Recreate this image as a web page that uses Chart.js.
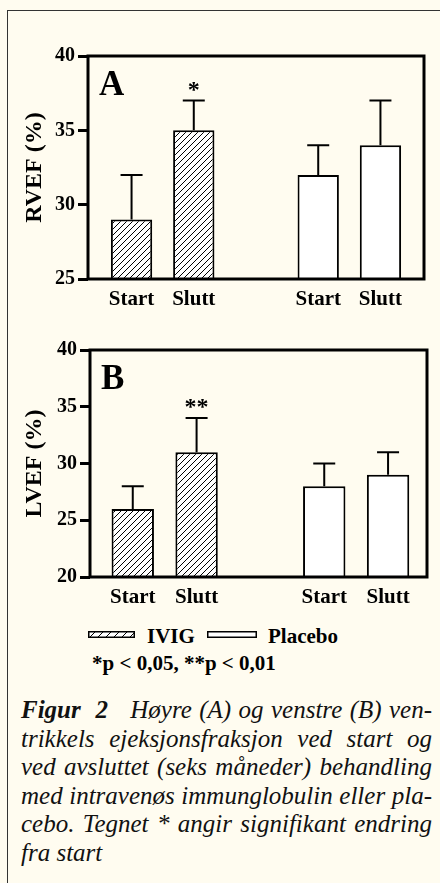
<!DOCTYPE html>
<html>
<head>
<meta charset="utf-8">
<script src="https://cdn.jsdelivr.net/npm/chart.js@4/dist/chart.umd.min.js"></script>
<style>
  html, body { margin: 0; padding: 0; width: 440px; height: 883px; overflow: hidden; background: #fffcf0; font-family: 'Liberation Serif', 'Times New Roman', serif; }
  #frame { position: absolute; left: 7px; top: 10px; width: 460px; height: 900px; border-left: 1px solid #333; border-top: 1px solid #333; }
  #cA { position: absolute; left: 0; top: 0; }
  #cB { position: absolute; left: 0; top: 320px; }
  .lg { position: absolute; font-weight: bold; font-size: 21px; line-height: 24px; white-space: nowrap; }
  .sw { position: absolute; }
  #cap { position: absolute; left: 21px; top: 696px; width: 411px; font-style: italic; font-size: 25px; line-height: 28.5px; color: #111; }
  #cap .ln { text-align: justify; text-align-last: justify; white-space: nowrap; }
  #cap .last { text-align-last: left; }
</style>
</head>
<body>
<div id="frame"></div>
<canvas id="cA" width="440" height="320"></canvas>
<canvas id="cB" width="440" height="300"></canvas>

<canvas class="sw" id="swIVIG" width="47" height="7" style="left:88px;top:631px"></canvas>
<div class="lg" style="left:147px;top:624px">IVIG</div>
<canvas class="sw" id="swPlacebo" width="50" height="7" style="left:207px;top:631px"></canvas>
<div class="lg" style="left:268px;top:624px">Placebo</div>
<div class="lg" style="left:92px;top:651px">*p &lt; 0,05, **p &lt; 0,01</div>

<div id="cap">
  <div class="ln"><b>Figur&nbsp; 2</b>&nbsp;&nbsp; Høyre (A) og venstre (B) ven-</div>
  <div class="ln">trikkels ejeksjonsfraksjon ved start og</div>
  <div class="ln">ved avsluttet (seks måneder) behandling</div>
  <div class="ln">med intravenøs immunglobulin eller pla-</div>
  <div class="ln">cebo. Tegnet * angir signifikant endring</div>
  <div class="ln last">fra start</div>
</div>

<script>
// data
const timepoints = ['Start', 'Slutt'];
const groups = ['IVIG', 'Placebo'];

const rvefIVIG = [29, 35];
const rvefIVIGErr = [3, 2];
const rvefPlacebo = [32, 34];
const rvefPlaceboErr = [2, 3];
const rvefSig = ['', '*'];
const rvefTicks = [25, 30, 35, 40];

const lvefIVIG = [26, 31];
const lvefIVIGErr = [2, 3];
const lvefPlacebo = [28, 29];
const lvefPlaceboErr = [2, 2];
const lvefSig = ['', '**'];
const lvefTicks = [20, 25, 30, 35, 40];

const FONT = "'Liberation Serif', 'Times New Roman', serif";

// slot index on the x axis: one empty slot between the groups
const slotOf = (g, i) => g * (timepoints.length + 1) + i;
const slots = [], slotLabels = {};
groups.forEach((g, gi) => timepoints.forEach((t, i) => { slots.push(slotOf(gi, i)); slotLabels[slotOf(gi, i)] = t; }));

function hatchPattern(step) {
  const c = document.createElement('canvas');
  c.width = step; c.height = step;
  const g = c.getContext('2d');
  g.fillStyle = '#fff';
  g.fillRect(0, 0, step, step);
  g.strokeStyle = '#000';
  g.lineWidth = 1;
  g.beginPath();
  g.moveTo(0, step); g.lineTo(step, 0);
  g.moveTo(-1, 1); g.lineTo(1, -1);
  g.moveTo(step - 1, step + 1); g.lineTo(step + 1, step - 1);
  g.stroke();
  return g.createPattern(c, 'repeat');
}
const hatch = hatchPattern(6);

// error bars + significance marks
const errorBars = {
  id: 'errorBars',
  afterDatasetsDraw(chart) {
    const ctx = chart.ctx, y = chart.scales.y;
    ctx.save();
    ctx.strokeStyle = '#000';
    ctx.lineWidth = 2;
    chart.data.datasets.forEach((ds, di) => {
      const meta = chart.getDatasetMeta(di);
      meta.data.forEach((bar, i) => {
        const top = y.getPixelForValue(ds.data[i].y + ds.errors[i]);
        ctx.beginPath();
        ctx.moveTo(bar.x, bar.y);
        ctx.lineTo(bar.x, top);
        ctx.moveTo(bar.x - 11, top);
        ctx.lineTo(bar.x + 11, top);
        ctx.stroke();
        if (ds.marks && ds.marks[i]) {
          ctx.fillStyle = '#000';
          ctx.font = 'bold 24px ' + FONT;
          ctx.textAlign = 'center';
          ctx.textBaseline = 'alphabetic';
          ctx.fillText(ds.marks[i], bar.x, top - 4);
        }
      });
    });
    ctx.restore();
  }
};

// closed frame round the plot + panel letter
const frame = {
  id: 'frame',
  afterDatasetsDraw(chart, args, opts) {
    const {ctx, chartArea: a} = chart;
    ctx.save();
    ctx.strokeStyle = '#000';
    ctx.lineWidth = 3;
    ctx.strokeRect(a.left, a.top, a.right - a.left, a.bottom - a.top);
    ctx.fillStyle = '#000';
    ctx.font = 'bold 35px ' + FONT;
    ctx.textAlign = 'left';
    ctx.textBaseline = 'alphabetic';
    ctx.fillText(opts.text, a.left + 11, a.top + 39);
    ctx.restore();
  }
};

function makeChart(id, cfg) {
  const datasets = [
    { label: groups[0], data: cfg.ivig.map((v, i) => ({x: slotOf(0, i), y: v})), errors: cfg.ivigErr, marks: cfg.sig, backgroundColor: hatch },
    { label: groups[1], data: cfg.placebo.map((v, i) => ({x: slotOf(1, i), y: v})), errors: cfg.placeboErr, backgroundColor: '#fff' }
  ];
  datasets.forEach(d => Object.assign(d, { borderColor: '#000', borderWidth: 2, barPercentage: 0.83, categoryPercentage: 0.8 }));

  return new Chart(document.getElementById(id), {
    type: 'bar',
    data: { datasets },
    plugins: [errorBars, frame],
    options: {
      responsive: false,
      animation: false,
      grouped: false,
      layout: { padding: cfg.padding },
      plugins: {
        legend: { display: false },
        tooltip: { enabled: false },
        frame: { text: cfg.letter }
      },
      scales: {
        x: {
          type: 'linear',
          offset: false,
          min: cfg.xRange[0],
          max: cfg.xRange[1],
          afterBuildTicks: s => { s.ticks = slots.map(v => ({value: v})); },
          afterFit: s => { s.height = cfg.xHeight; },
          grid: { display: false, drawTicks: false, offset: false },
          border: { display: false },
          ticks: {
            autoSkip: false, maxRotation: 0, padding: 8,
            color: '#000',
            font: { family: FONT, size: 21, weight: 'bold' },
            callback: v => slotLabels[v] || ''
          }
        },
        y: {
          min: cfg.ticks[0],
          max: cfg.ticks[cfg.ticks.length - 1],
          afterBuildTicks: s => { s.ticks = cfg.ticks.map(v => ({value: v})); },
          afterFit: s => { s.width = cfg.yWidth; },
          grid: { drawOnChartArea: false, drawTicks: true, tickLength: 10, lineWidth: 3, color: '#000' },
          border: { display: false },
          ticks: {
            padding: 3, color: '#000',
            font: { family: FONT, size: 20, weight: 'bold' }
          },
          title: {
            display: true, text: cfg.yTitle, color: '#000',
            font: { family: FONT, size: 24, weight: 'bold' },
            padding: { top: 20, bottom: 0 }
          }
        }
      }
    }
  });
}

makeChart('cA', {
  letter: 'A', yTitle: 'RVEF (%)',
  ivig: rvefIVIG, ivigErr: rvefIVIGErr, placebo: rvefPlacebo, placeboErr: rvefPlaceboErr,
  sig: rvefSig, ticks: rvefTicks,
  xRange: [-0.7, 4.7], padding: { left: 0, right: 16, top: 56, bottom: 0 }, yWidth: 88, xHeight: 41
});

makeChart('cB', {
  letter: 'B', yTitle: 'LVEF (%)',
  ivig: lvefIVIG, ivigErr: lvefIVIGErr, placebo: lvefPlacebo, placeboErr: lvefPlaceboErr,
  sig: lvefSig, ticks: lvefTicks,
  xRange: [-0.67, 4.61], padding: { left: 0, right: 13, top: 30, bottom: 0 }, yWidth: 90, xHeight: 43
});

// legend swatches
function swatch(id, fill) {
  const c = document.getElementById(id), g = c.getContext('2d');
  g.fillStyle = fill;
  g.fillRect(0, 0, c.width, c.height);
  g.strokeStyle = '#000';
  g.lineWidth = 1.5;
  g.strokeRect(0.75, 0.75, c.width - 1.5, c.height - 1.5);
}
swatch('swIVIG', hatchPattern(8));
swatch('swPlacebo', '#fff');
</script>
</body>
</html>
